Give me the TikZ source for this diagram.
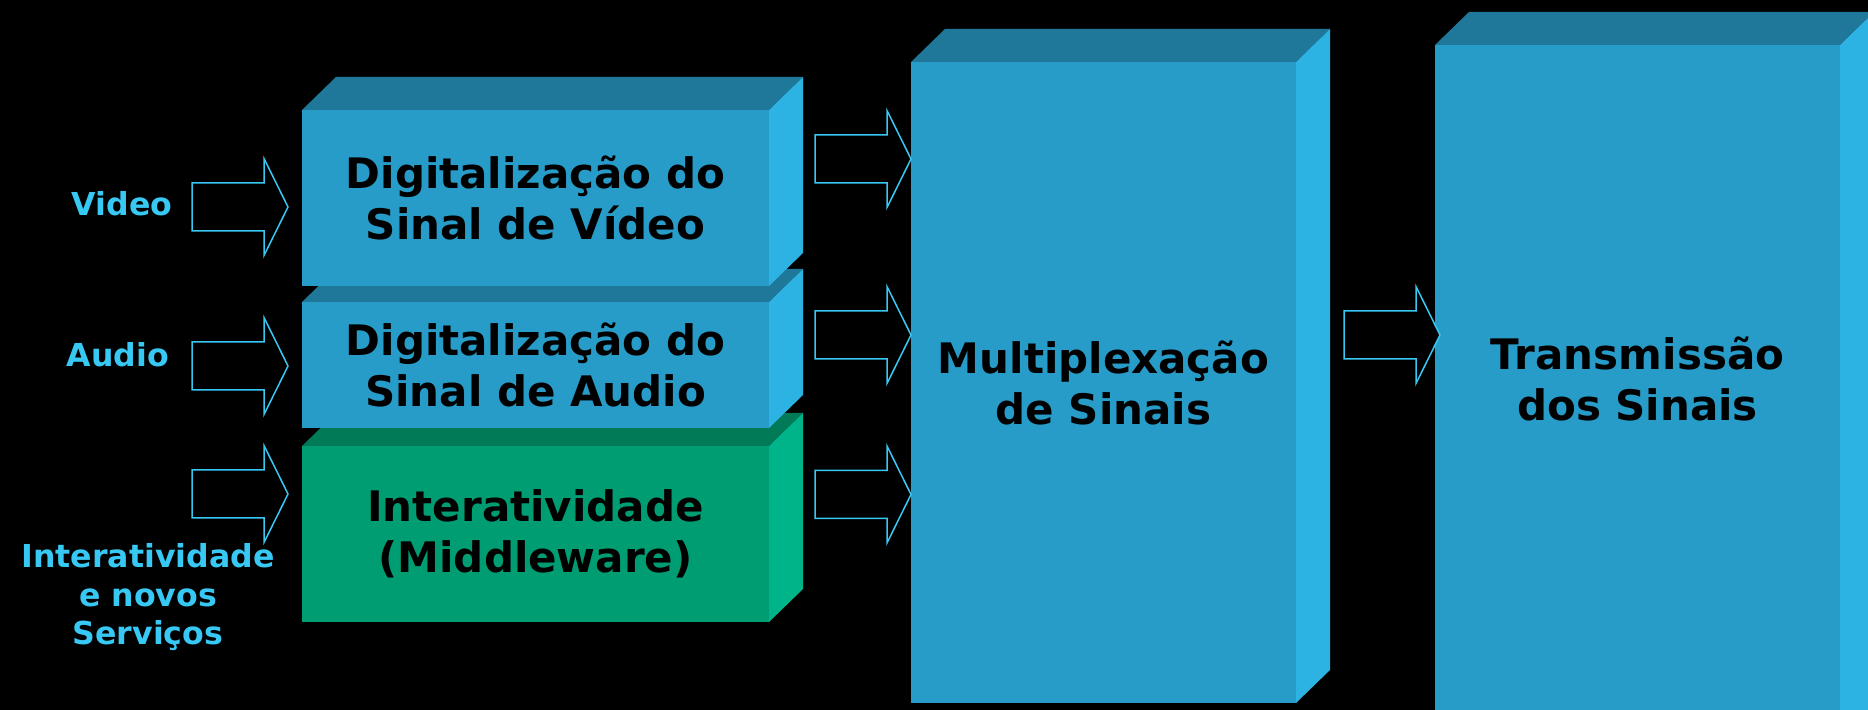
\documentclass[tikz,border=0pt]{standalone}
\usepackage{fontspec}
\setmainfont{DejaVu Sans}
\usetikzlibrary{calc}
\definecolor{bfront}{HTML}{289CC8}
\definecolor{btop}{HTML}{1F7899}
\definecolor{bside}{HTML}{2DB3E3}
\definecolor{gfront}{HTML}{009C72}
\definecolor{gtop}{HTML}{007A57}
\definecolor{gside}{HTML}{00B489}
\definecolor{acyan}{HTML}{38C8F4}
\tikzset{
  front/.style={inner sep=0pt, outer sep=0pt, align=center, text=black,
    font=\fontsize{21pt}{25.5pt}\selectfont\bfseries},
  lbl/.style={inner sep=0pt, align=center, text=acyan,
    font=\fontsize{15.8pt}{19.25pt}\selectfont\bfseries},
  arrowline/.style={draw=acyan, line width=0.75pt, fill=black, line join=miter},
  blockarrow/.pic={\draw[arrowline] (0,-24)--(72,-24)--(72,-48.5)--(96,0)--(72,48.5)--(72,24)--(0,24)--cycle;}
}
\newcommand{\cubefaces}[3]{%
  \fill[#2] (#1.north west) -- ++(34,-33) -- ($(#1.north east)+(34,-33)$) -- (#1.north east) -- cycle;
  \fill[#3] (#1.north east) -- ++(34,-33) -- ($(#1.south east)+(34,-33)$) -- (#1.south east) -- cycle;
}
\begin{document}
\begin{tikzpicture}[x=0.5pt,y=-0.5pt]
\fill[black] (0,0) rectangle (1868,710);
\useasboundingbox (0,0) rectangle (1868,710);
\clip (0,0) rectangle (1868,710);

% stacked input boxes (bottom first)
\node[front, fill=gfront, minimum width=233.5pt, minimum height=88pt] (mid) at (535.5,534) {Interatividade\\(Middleware)};
\cubefaces{mid}{gtop}{gside}
\node[front, fill=bfront, minimum width=233.5pt, minimum height=63pt] (aud) at (535.5,365) {Digitalização do\\Sinal de Audio};
\cubefaces{aud}{btop}{bside}
\node[front, fill=bfront, minimum width=233.5pt, minimum height=88pt] (vid) at (535.5,198) {Digitalização do\\Sinal de Vídeo};
\cubefaces{vid}{btop}{bside}

% multiplexing and transmission
\node[front, fill=bfront, minimum width=192.5pt, minimum height=320.5pt] (mux) at (1103.5,382.5) {Multiplexação\\de Sinais};
\cubefaces{mux}{btop}{bside}
\node[front, fill=bfront, minimum width=202.5pt, minimum height=380pt] (tx) at (1637.5,425) {};
\cubefaces{tx}{btop}{bside}
\node[front] (txt) at (1637.5,378.5) {Transmissão\\dos Sinais};

% input labels
\node[lbl] (lv) at (122,204) {Video};
\node[lbl] (la) at (118,355) {Audio};
\node[lbl] (li) at (148,597.5) {Interatividade\\e novos\\Serviços};

% block arrows
\pic at (192,207) {blockarrow};
\pic at (192,366) {blockarrow};
\pic at (192,494) {blockarrow};
\pic at (815,159) {blockarrow};
\pic at (815,335) {blockarrow};
\pic at (815,494.5) {blockarrow};
\pic at (1344,335) {blockarrow};
\end{tikzpicture}
\end{document}
